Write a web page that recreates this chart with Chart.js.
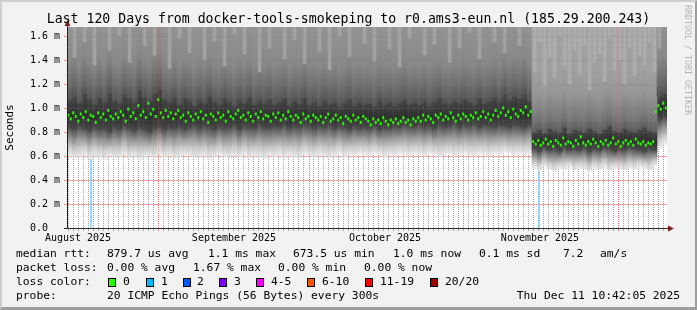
<!DOCTYPE html>
<html>
<head>
<meta charset="utf-8">
<script src="https://cdn.jsdelivr.net/npm/chart.js@4.4.1/dist/chart.umd.min.js"></script>
<style>
  html, body { margin: 0; padding: 0; background: #f2f2f2; }
  #wrap { position: relative; width: 697px; height: 310px; overflow: hidden;
          font-family: "DejaVu Sans Mono", monospace; color: #000; }
  #frame { position: absolute; left: 0; top: 0; width: 697px; height: 310px; box-sizing: border-box;
           border-top: 2px solid #cfcfcf; border-left: 2px solid #cfcfcf;
           border-right: 2px solid #9e9e9e; border-bottom: 3px solid #9e9e9e; pointer-events: none; }
  canvas { position: absolute; left: 0; top: 0; }
  .t { position: absolute; white-space: pre; line-height: 14px; font-size: 11.3px; }
  #title { position: absolute; left: 0; top: 11px; width: 697px; text-align: center;
           font-size: 13.2px; line-height: 16px; white-space: pre; }
  #mark { position: absolute; left: 682px; top: 5px; writing-mode: vertical-rl;
          font-size: 8.3px; line-height: 11px; color: #b4b4b4; white-space: pre; }
  .box { position: absolute; width: 8px; height: 9px; box-sizing: border-box; border: 1px solid #000; }
</style>
</head>
<body>
<div id="wrap">
  <canvas id="chart" width="697" height="310"></canvas>
  <div id="title">Last 120 Days from docker-tools-smokeping to r0.ams3-eun.nl (185.29.200.243)</div>
  <div id="mark">RRDTOOL / TOBI OETIKER</div>
  <div id="legend"></div>
  <div id="frame"></div>
</div>
<script>
// [0] AXES — days since the graph start (120 days, one smoke column per day)
const DAYS = 120;
const Y_TICKS  = [0, 0.1, 0.2, 0.3, 0.4, 0.5, 0.6, 0.7, 0.8, 0.9, 1.0, 1.1, 1.2, 1.3, 1.4, 1.5, 1.6];
const Y_LABELS = ['0.0  ', '', '0.2 m', '', '0.4 m', '', '0.6 m', '', '0.8 m', '', '1.0 m', '', '1.2 m', '', '1.4 m', '', '1.6 m'];
const Y_MAX = 1.675;
const MONTH_LABELS    = ['August 2025', 'September 2025', 'October 2025', 'November 2025'];
const MONTH_LABEL_DAY = [2.2, 33.4, 63.6, 94.6];
const MONTH_START_DAY = [18.2, 48.4, 79.2, 110.2];

// [1] SMOKE (per day)
const smokeLo = [
  0.60,0.58,0.59,0.61,0.58,0.60,0.59,0.57,0.60,0.58,
  0.59,0.61,0.58,0.60,0.57,0.59,0.60,0.58,0.61,0.59,
  0.60,0.58,0.59,0.61,0.60,0.58,0.59,0.60,0.57,0.59,
  0.61,0.59,0.58,0.60,0.59,0.61,0.58,0.60,0.59,0.58,
  0.60,0.59,0.61,0.58,0.60,0.59,0.58,0.61,0.60,0.59,
  0.61,0.60,0.58,0.60,0.62,0.59,0.61,0.60,0.62,0.61,
  0.60,0.62,0.61,0.59,0.61,0.60,0.62,0.61,0.60,0.62,
  0.61,0.60,0.62,0.61,0.59,0.61,0.62,0.60,0.61,0.62,
  0.61,0.60,0.62,0.61,0.60,0.62,0.61,0.63,0.62,0.61,
  0.62,0.61,0.62,0.50,0.48,0.51,0.49,0.47,0.50,0.49,
  0.51,0.48,0.50,0.49,0.47,0.50,0.49,0.51,0.48,0.50,
  0.49,0.48,0.50,0.49,0.51,0.50,0.48,0.52,0.66,0.70
];
const coreLo = [
  0.84,0.82,0.85,0.83,0.81,0.84,0.82,0.83,0.80,0.84,
  0.82,0.85,0.83,0.81,0.84,0.82,0.80,0.83,0.85,0.82,
  0.84,0.83,0.85,0.82,0.84,0.86,0.83,0.85,0.84,0.82,
  0.85,0.83,0.84,0.86,0.82,0.85,0.84,0.83,0.86,0.84,
  0.83,0.85,0.84,0.86,0.83,0.85,0.84,0.86,0.85,0.83,
  0.85,0.84,0.86,0.83,0.85,0.84,0.82,0.85,0.83,0.84,
  0.83,0.85,0.82,0.84,0.83,0.85,0.84,0.86,0.85,0.84,
  0.86,0.84,0.85,0.83,0.86,0.84,0.85,0.87,0.84,0.86,
  0.85,0.87,0.84,0.86,0.85,0.84,0.86,0.85,0.84,0.86,
  0.85,0.84,0.86,0.66,0.64,0.67,0.65,0.66,0.64,0.67,
  0.65,0.66,0.65,0.67,0.64,0.66,0.65,0.67,0.66,0.64,
  0.66,0.65,0.67,0.66,0.65,0.64,0.66,0.65,0.90,0.92
];
const coreHi = [
  1.06,1.10,1.04,1.12,1.07,1.03,1.09,1.05,1.13,1.06,
  1.04,1.11,1.08,1.05,1.14,1.09,1.06,1.12,1.15,1.07,
  1.05,1.09,1.03,1.08,1.06,1.02,1.07,1.04,1.10,1.05,
  1.03,1.08,1.05,1.02,1.07,1.04,1.09,1.03,1.06,1.04,
  1.07,1.03,1.05,1.08,1.02,1.06,1.04,1.09,1.03,1.05,
  1.02,1.06,1.03,1.05,1.01,1.04,1.07,1.02,1.05,1.03,
  1.04,1.01,1.06,1.03,1.05,1.02,1.04,1.07,1.03,1.05,
  1.03,1.06,1.02,1.05,1.08,1.04,1.03,1.06,1.04,1.07,
  1.05,1.03,1.08,1.04,1.06,1.09,1.05,1.11,1.07,1.10,
  1.08,1.12,1.06,0.80,0.82,0.79,0.83,0.81,0.80,0.84,
  0.79,0.82,0.81,0.80,0.83,0.81,0.79,0.82,0.85,0.81,
  0.80,0.83,0.81,0.80,0.82,0.84,0.81,0.80,1.10,1.12
];
const streakLo = [
  1.70,1.42,1.70,1.55,1.70,1.36,1.70,1.70,1.48,1.70,
  1.60,1.70,1.38,1.70,1.70,1.52,1.70,1.44,1.70,1.70,
  1.33,1.70,1.58,1.70,1.46,1.70,1.70,1.40,1.70,1.56,
  1.70,1.35,1.70,1.62,1.70,1.45,1.70,1.70,1.30,1.70,
  1.50,1.70,1.70,1.41,1.70,1.57,1.70,1.37,1.70,1.70,
  1.47,1.70,1.32,1.70,1.60,1.70,1.43,1.70,1.70,1.54,
  1.70,1.39,1.70,1.70,1.49,1.70,1.34,1.70,1.58,1.70,
  1.70,1.44,1.70,1.53,1.70,1.70,1.38,1.70,1.50,1.70,
  1.63,1.70,1.41,1.70,1.70,1.55,1.70,1.46,1.70,1.70,
  1.52,1.70,1.70,1.30,1.55,1.18,1.42,1.25,1.60,1.35,
  1.20,1.48,1.28,1.52,1.15,1.38,1.45,1.22,1.58,1.32,
  1.40,1.20,1.50,1.27,1.44,1.36,1.55,1.30,1.50,1.70
];
const SMOKE_MAX = 1.75;

// [2] MEDIAN RTT (two samples per day)
const median = [
  0.94,0.91,0.96,0.93,0.89,0.95,0.92,0.97,0.90,0.94, 0.93,0.88,0.96,0.92,0.95,0.90,0.98,0.93,0.91,0.95,
  0.92,0.97,0.94,0.89,0.99,0.93,0.96,0.91,1.02,0.94, 0.97,0.92,1.04,0.95,0.99,0.93,1.07,0.96,0.92,0.98,
  0.93,0.96,0.91,0.95,0.98,0.92,0.94,0.89,0.96,0.93, 0.90,0.95,0.92,0.97,0.91,0.94,0.88,0.95,0.93,0.90,
  0.96,0.92,0.94,0.89,0.97,0.93,0.91,0.95,0.98,0.92, 0.94,0.90,0.96,0.93,0.89,0.95,0.92,0.97,0.91,0.94,
  0.93,0.89,0.95,0.92,0.96,0.90,0.94,0.91,0.97,0.93, 0.90,0.94,0.92,0.88,0.95,0.91,0.93,0.89,0.94,0.92,
  0.90,0.93,0.88,0.92,0.95,0.89,0.91,0.94,0.90,0.92, 0.87,0.93,0.91,0.89,0.94,0.90,0.92,0.88,0.93,0.91,
  0.89,0.86,0.91,0.88,0.90,0.87,0.92,0.89,0.86,0.90, 0.88,0.91,0.87,0.89,0.92,0.88,0.90,0.86,0.91,0.89,
  0.92,0.89,0.94,0.90,0.93,0.91,0.88,0.94,0.92,0.95, 0.90,0.93,0.91,0.96,0.92,0.89,0.94,0.91,0.95,0.93,
  0.90,0.94,0.92,0.96,0.91,0.93,0.97,0.92,0.95,0.90, 0.94,0.98,0.93,0.96,1.00,0.94,0.97,0.92,0.99,0.95,
  0.93,0.98,0.96,1.01,0.94,0.97,
  0.72,0.70,0.73,0.69,0.71,0.74,0.70,0.72,0.68,0.73, 0.71,0.69,0.75,0.70,0.72,0.71,0.68,0.73,0.70,0.76,
  0.71,0.69,0.72,0.70,0.74,0.71,0.68,0.72,0.70,0.73, 0.69,0.71,0.75,0.70,0.72,0.68,0.71,0.73,0.70,0.72,
  0.69,0.74,0.71,0.70,0.72,0.69,0.71,0.70,0.72,
  0.97,1.02,0.99,1.04,1.00
];

// [3] LOSS MARKS (1/20 loss)
const lossDay = [4.8, 94.4];
const lossTop = [0.66, 0.50];

// [4] LEGEND
const LOSS_COLORS = ['#26ff00', '#00b8ff', '#0059ff', '#7e00ff', '#ff00ff', '#ff5500', '#ff0000', '#a00000'];
const LOSS_LABELS = ['0', '1', '2', '3', '4-5', '6-10', '11-19', '20/20'];
const LOSS_BOX_X  = [108, 146, 183, 219, 256, 307, 365, 430];
const LOSS_TEXT_X = [123, 161, 197, 234, 271, 322, 380, 445];
const LEGEND_LINES = [
  [247, [[16, 'median rtt:'], [107, '879.7 us avg'], [208, '1.1 ms max'], [293, '673.5 us min'],
         [393, '1.0 ms now'], [479, '0.1 ms sd'], [563, '7.2'], [600, 'am/s']]],
  [261, [[16, 'packet loss:'], [107, '0.00 % avg'], [193, '1.67 % max'], [278, '0.00 % min'], [364, '0.00 % now']]],
  [275, [[16, 'loss color:']]],
  [289, [[16, 'probe:'], [107, '20 ICMP Echo Pings (56 Bytes) every 300s']]]
];
const STAMP = 'Thu Dec 11 10:42:05 2025';

const FONT = 'DejaVu Sans Mono';
// grid under the smoke, and a fainter copy over it
const GRID_MINOR = 'rgba(143,143,143,0.75)';
const GRID_MAJOR = 'rgba(222,79,79,0.6)';
const OVER_MINOR = 'rgba(143,143,143,0.22)';
const OVER_MAJOR = 'rgba(222,79,79,0.4)';
const NONE = 'rgba(0,0,0,0)';

// [5] LEGEND HTML
(() => {
  const leg = document.getElementById('legend');
  let html = '';
  LEGEND_LINES.forEach(([top, parts]) => {
    parts.forEach(([x, s]) => { html += `<div class="t" style="left:${x}px;top:${top}px">${s}</div>`; });
  });
  LOSS_COLORS.forEach((c, i) => {
    html += `<div class="box" style="left:${LOSS_BOX_X[i]}px;top:278px;background:${c}"></div>`;
    html += `<div class="t" style="left:${LOSS_TEXT_X[i]}px;top:275px">${LOSS_LABELS[i]}</div>`;
  });
  html += `<div class="t" style="right:17px;top:289px">${STAMP}</div>`;
  leg.innerHTML = html;
})();

// [6] X TICKS: day grid, month grid, month labels
const xTicks = [];
for (let d = 0.2; d < DAYS; d += 1) {
  if (MONTH_START_DAY.some(m => Math.abs(m - d) < 0.35)) continue;
  xTicks.push({ v: +d.toFixed(2), kind: 'minor' });
}
MONTH_START_DAY.forEach(v => xTicks.push({ v, kind: 'major' }));
MONTH_LABEL_DAY.forEach((v, i) => xTicks.push({ v, kind: 'label', text: MONTH_LABELS[i] }));
xTicks.sort((a, b) => a.v - b.v);

// [7] GRADIENT HELPER (stops in axis values)
function vGrad(ctx, stops) {
  const chart = ctx.chart;
  const y = chart.scales.y;
  if (!chart.chartArea || !y) return stops[stops.length - 1][1];
  const p0 = y.getPixelForValue(stops[0][0]);
  const p1 = y.getPixelForValue(stops[stops.length - 1][0]);
  if (Math.abs(p1 - p0) < 0.5) return stops[stops.length - 1][1];
  const g = chart.ctx.createLinearGradient(0, p0, 0, p1);
  stops.forEach(([v, c]) => g.addColorStop(Math.min(1, Math.max(0, (y.getPixelForValue(v) - p0) / (p1 - p0))), c));
  return g;
}
const isLow = i => coreHi[i] < 0.9;
const topFill = smokeLo.map(() => SMOKE_MAX);

const band = (lo, hi, color, order, thick = 5) => ({
  type: 'bar',
  data: lo.map((v, i) => ({ x: i + 0.5, y: [v, hi[i]] })),
  backgroundColor: color,
  barThickness: thick,
  grouped: false,
  borderWidth: 0,
  order
});

const datasets = [
  {
    type: 'bar',
    data: lossDay.map((d, i) => ({ x: d, y: [0, lossTop[i]] })),
    backgroundColor: '#9ed8f2',
    barThickness: 1.5,
    grouped: false,
    borderWidth: 0,
    order: 9
  },
  band(smokeLo, coreLo, ctx => {
    const i = ctx.dataIndex, lo = smokeLo[i], hi = coreLo[i];
    return vGrad(ctx, [[lo, '#ededed'], [lo + (hi - lo) * 0.3, '#cbcbcb'], [lo + (hi - lo) * 0.6, '#989898'],
                       [lo + (hi - lo) * 0.85, '#686868'], [hi, '#4c4c4c']]);
  }, 5),
  band(coreLo, coreHi, ctx => {
    const i = ctx.dataIndex, lo = coreLo[i], hi = coreHi[i];
    return vGrad(ctx, [[lo, '#484848'], [lo + (hi - lo) * 0.4, '#2e2e2e'], [hi, '#444444']]);
  }, 4),
  band(coreHi, topFill, ctx => {
    const i = ctx.dataIndex, lo = coreHi[i];
    return isLow(i)
      ? vGrad(ctx, [[lo, '#5c5c5c'], [lo + 0.12, '#7a7a7a'], [lo + 0.3, '#969696'], [lo + 0.5, '#a1a1a1']])
      : vGrad(ctx, [[lo, '#505050'], [lo + 0.12, '#6a6a6a'], [lo + 0.32, '#888888'], [lo + 0.6, '#939393']]);
  }, 3),
  band(streakLo, topFill, ctx => isLow(ctx.dataIndex) ? '#adadad' : '#a3a3a3', 2, 3),
  {
    type: 'scatter',
    data: median.map((v, j) => ({ x: (j + 0.5) / 2, y: v })),
    pointStyle: 'line',
    pointRotation: 90,
    pointRadius: 1.5,
    pointBorderWidth: 2,
    pointBorderColor: '#26ff00',
    pointBackgroundColor: '#26ff00',
    pointHoverRadius: 0,
    order: 0
  }
];

// [8] PLOT BACKGROUND + AXIS ARROWS (rrdtool style)
const canvasBg = {
  id: 'canvasBg',
  beforeDraw(chart) {
    const { ctx, chartArea: a } = chart;
    ctx.save();
    ctx.fillStyle = '#ffffff';
    ctx.fillRect(a.left, a.top, a.right - a.left, a.bottom - a.top);
    ctx.restore();
  }
};
const arrows = {
  id: 'arrows',
  afterDraw(chart) {
    const { ctx, chartArea: a } = chart;
    ctx.save();
    ctx.strokeStyle = '#1f1f1f';
    ctx.lineWidth = 1;
    ctx.beginPath();
    ctx.moveTo(a.left + 0.5, a.top); ctx.lineTo(a.left + 0.5, a.top - 3);
    ctx.moveTo(a.left - 3, a.bottom + 0.5); ctx.lineTo(a.left, a.bottom + 0.5);
    ctx.moveTo(a.right, a.bottom + 0.5); ctx.lineTo(a.right + 3, a.bottom + 0.5);
    ctx.stroke();
    ctx.fillStyle = '#801f1f';
    ctx.beginPath();
    ctx.moveTo(a.left + 0.5, a.top - 7); ctx.lineTo(a.left - 2.5, a.top - 1); ctx.lineTo(a.left + 3.5, a.top - 1);
    ctx.closePath(); ctx.fill();
    ctx.beginPath();
    ctx.moveTo(a.right + 7, a.bottom + 0.5); ctx.lineTo(a.right + 1, a.bottom - 2.5); ctx.lineTo(a.right + 1, a.bottom + 3.5);
    ctx.closePath(); ctx.fill();
    ctx.restore();
  }
};

const xGridColor = (major, minor) => ctx => {
  const t = xTicks[ctx.index];
  if (!t) return NONE;
  return t.kind === 'major' ? major : t.kind === 'minor' ? minor : NONE;
};
const yGridColor = (major, minor) => ctx => (Y_LABELS[ctx.index] ? major : minor);

new Chart(document.getElementById('chart'), {
  type: 'bar',
  data: { datasets },
  plugins: [canvasBg, arrows],
  options: {
    responsive: false,
    devicePixelRatio: 1,
    animation: false,
    events: [],
    layout: { padding: { top: 27, left: 0, right: 30, bottom: 62 } },
    plugins: { legend: { display: false }, tooltip: { enabled: false }, title: { display: false } },
    scales: {
      x: {
        type: 'linear', min: 0, max: DAYS, offset: false,
        afterBuildTicks: s => { s.ticks = xTicks.map(t => ({ value: t.v })); },
        afterFit: s => { s.height = 20; },
        grid: { offset: false, lineWidth: 1, tickLength: 3, color: xGridColor(GRID_MAJOR, GRID_MINOR) },
        border: { z: 1, display: true, color: '#1f1f1f', width: 1, dash: [1, 1] },
        ticks: {
          autoSkip: false, maxRotation: 0, minRotation: 0, padding: 1, color: '#000',
          font: { family: FONT, size: 10 },
          callback: (v, i) => (xTicks[i] && xTicks[i].kind === 'label') ? xTicks[i].text : ''
        }
      },
      xOver: {
        type: 'linear', position: 'bottom', min: 0, max: DAYS, offset: false,
        afterBuildTicks: s => { s.ticks = xTicks.map(t => ({ value: t.v })); },
        afterFit: s => { s.height = 0; },
        grid: { z: 1, offset: false, lineWidth: 1, drawTicks: false, color: xGridColor(OVER_MAJOR, OVER_MINOR) },
        border: { display: false, dash: [1, 1] },
        ticks: { display: false }
      },
      y: {
        type: 'linear', min: 0, max: Y_MAX,
        afterBuildTicks: s => { s.ticks = Y_TICKS.map(v => ({ value: v })); },
        afterFit: s => { s.width = 67; },
        grid: { lineWidth: 1, tickLength: 3, color: yGridColor(GRID_MAJOR, GRID_MINOR) },
        border: { z: 1, display: true, color: '#1f1f1f', width: 1, dash: [1, 1] },
        ticks: {
          padding: 4, color: '#000', font: { family: FONT, size: 10 },
          callback: (v, i) => Y_LABELS[i]
        },
        title: { display: true, text: 'Seconds', color: '#000', font: { family: FONT, size: 11 }, padding: { top: 4, bottom: 0 } }
      },
      yOver: {
        type: 'linear', position: 'left', min: 0, max: Y_MAX,
        afterBuildTicks: s => { s.ticks = Y_TICKS.map(v => ({ value: v })); },
        afterFit: s => { s.width = 0; },
        grid: { z: 1, lineWidth: 1, drawTicks: false, color: yGridColor(OVER_MAJOR, OVER_MINOR) },
        border: { display: false, dash: [1, 1] },
        ticks: { display: false }
      }
    }
  }
});
</script>
</body>
</html>
